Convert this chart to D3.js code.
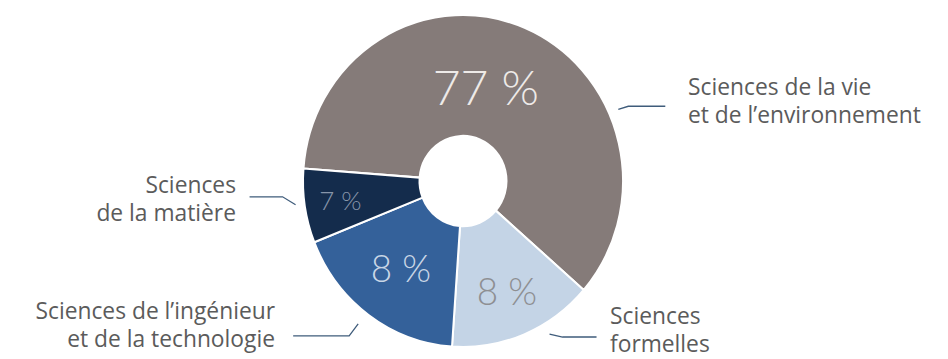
<!DOCTYPE html>
<html>
<head>
<meta charset="utf-8">
<script src="https://cdn.jsdelivr.net/npm/d3@7"></script>
<style>
  html, body { margin: 0; padding: 0; background: #ffffff; }
  #chart { width: 948px; height: 359px; }
</style>
</head>
<body>
<div id="chart"></div>
<script>
// Données : domaines scientifiques
const categories = [
    "Sciences de la vie et de l’environnement",
    "Sciences formelles",
    "Sciences de l’ingénieur et de la technologie",
    "Sciences de la matière"
];
// pourcentages affichés
const shares = [77, 8, 8, 7];
// part angulaire réellement dessinée dans l'original
const drawnShares = [60.2, 14.7, 17.9, 7.2];
// libellés extérieurs, ligne par ligne
const labelLines = [
    ["Sciences de la vie", "et de l’environnement"],
    ["Sciences", "formelles"],
    ["Sciences de l’ingénieur", "et de la technologie"],
    ["Sciences", "de la matière"]
];

const colors = ["#857b79", "#c4d4e6", "#34619a", "#142c4c"];
const pctColors = ["#eeeae8", "#8e8f92", "#c9d6e6", "#8795aa"];
const pctSizes = [48, 37, 37, 26];

function drawDonut() {
    const width = 948;
    const height = 359;
    const cx = 463, cy = 181;
    const outerR = 160, innerR = 43.5;
    const squash = 1.0375; // l'original est légèrement étiré en hauteur

    d3.select("#chart").selectAll("*").remove();

    const svg = d3.select("#chart")
        .append("svg")
        .attr("width", width)
        .attr("height", height);

    const pie = d3.pie()
        .value(d => d)
        .sort(null)
        .startAngle(-85.7 * Math.PI / 180)
        .endAngle((360 - 85.7) * Math.PI / 180);

    const arcs = pie(drawnShares);

    const arc = d3.arc()
        .innerRadius(innerR)
        .outerRadius(outerR);

    const g = svg.append("g")
        .attr("transform", `translate(${cx},${cy}) scale(1,${squash})`);

    g.selectAll("path")
        .data(arcs)
        .enter()
        .append("path")
        .attr("d", arc)
        .attr("fill", (d, i) => colors[i])
        .attr("stroke", "#ffffff")
        .attr("stroke-width", 2)
        .attr("stroke-linejoin", "round");

    // position polaire -> écran
    const polar = (angle, r) => [
        cx + r * Math.sin(angle),
        cy - r * Math.cos(angle) * squash
    ];

    // pourcentages dans les parts
    const pctRadius = [93, 115, 105, 124];
    const pctShift = [-8.5, 0, 0, 0]; // décalage angulaire (degrés)
    arcs.forEach((a, i) => {
        const mid = (a.startAngle + a.endAngle) / 2 + pctShift[i] * Math.PI / 180;
        const [x, y] = polar(mid, pctRadius[i]);
        svg.append("text")
            .attr("x", x)
            .attr("y", y)
            .attr("text-anchor", "middle")
            .attr("dy", "0.36em")
            .attr("fill", pctColors[i])
            .attr("font-family", "Lato, 'Open Sans', sans-serif")
            .attr("font-weight", 300)
            .attr("font-size", pctSizes[i] + "px")
            .text(shares[i] + "\u00a0%");
    });

    // lignes de rappel et libellés
    const leaders = [
        { angle: 66,    r: 170, elbow: [10, -3],  len: 37,  side: 1,  tx: 688, ty: 95 },
        { angle: 149.6, r: 171, elbow: [13, 3],   len: 34,  side: 1,  tx: 610, ty: 324 },
        { angle: 217.3, r: 173, elbow: [-9, 12],  len: 56,  side: -1, tx: 275, ty: 319 },
        { angle: 262.2, r: 169, elbow: [-13, -8], len: 33,  side: -1, tx: 236, ty: 193 }
    ];

    leaders.forEach((l, i) => {
        const [x0, y0] = polar(l.angle * Math.PI / 180, l.r);
        const x1 = x0 + l.elbow[0], y1 = y0 + l.elbow[1];
        const x2 = x1 + l.side * l.len;
        svg.append("path")
            .attr("d", d3.line()([[x0, y0], [x1, y1], [x2, y1]]))
            .attr("fill", "none")
            .attr("stroke", "#3f5c7b")
            .attr("stroke-width", 1.3);

        const t = svg.append("text")
            .attr("x", l.tx)
            .attr("y", l.ty)
            .attr("text-anchor", l.side > 0 ? "start" : "end")
            .attr("fill", "#5b5b5b")
            .attr("font-family", "'Open Sans', Lato, sans-serif")
            .attr("font-size", "22.8px");
        labelLines[i].forEach((line, j) => {
            t.append("tspan")
                .attr("x", l.tx)
                .attr("dy", j === 0 ? 0 : 28)
                .text(line);
        });
    });
}

drawDonut();
</script>
</body>
</html>
